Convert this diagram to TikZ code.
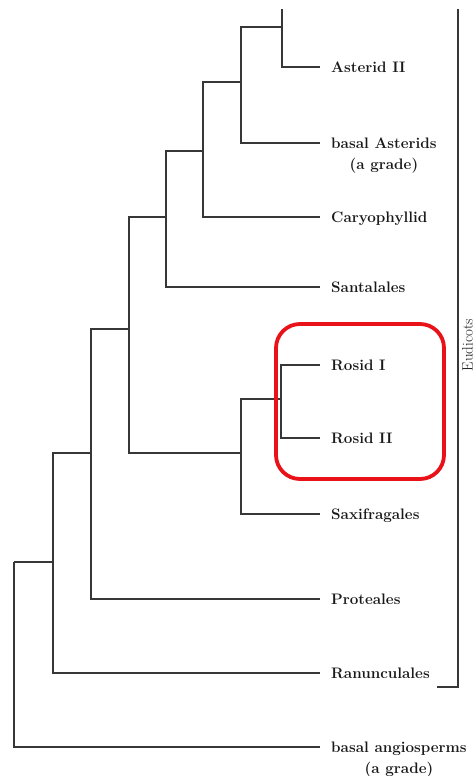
\documentclass[tikz,border=0pt]{standalone}
\usepackage{tikz}
\definecolor{branchgray}{RGB}{55,55,55}
\definecolor{inkblack}{RGB}{25,25,25}
\definecolor{boxred}{RGB}{232,18,24}
\begin{document}
\begin{tikzpicture}[x=1pt,y=-1pt,
  branch/.style={line width=1.7pt, draw=branchgray},
  lbl/.style={font=\fontsize{15.2}{18}\selectfont\bfseries, text=inkblack, inner sep=0pt},
  sidelbl/.style={font=\fontsize{15}{18}\selectfont, text=inkblack, inner sep=0pt},
  bracket/.style={line width=1.3pt, draw=branchgray},
  hilite/.style={draw=boxred, line width=3.8pt, rounded corners=24pt}]
\useasboundingbox (0,0) rectangle (476,776);

% internal nodes: (x of vertical bar, y where the parent's branch joins)
\coordinate (A) at (282,27);
\coordinate (Atop) at (282,9);
\coordinate (B) at (241,82);
\coordinate (C) at (203,151);
\coordinate (D) at (166,217);
\coordinate (E) at (129,329);
\coordinate (S) at (241,453);
\coordinate (R) at (281,399);
\coordinate (F) at (91,453);
\coordinate (G) at (53,562);
\coordinate (H) at (14,562);

% branch tips
\coordinate (tAst) at (320,67);
\coordinate (tBas) at (320,143);
\coordinate (tCar) at (320,217);
\coordinate (tSan) at (320,287);
\coordinate (tRo1) at (320,365);
\coordinate (tRo2) at (320,438);
\coordinate (tSax) at (320,514);
\coordinate (tPro) at (320,599);
\coordinate (tRan) at (320,673);
\coordinate (tAng) at (320,747);

% taxon labels
\node[lbl, anchor=base west] (lAst) at (331,72.5) {Asterid II};
\node[lbl, anchor=base west] (lBas) at (331,148.5) {basal Asterids};
\node[lbl, anchor=base] (lBas2) at ([yshift=-21pt]lBas.base) {(a grade)};
\node[lbl, anchor=base west] (lCar) at (331,222.5) {Caryophyllid};
\node[lbl, anchor=base west] (lSan) at (331,292.5) {Santalales};
\node[lbl, anchor=base west] (lRo1) at (331,370.5) {Rosid I};
\node[lbl, anchor=base west] (lRo2) at (331,443.5) {Rosid II};
\node[lbl, anchor=base west] (lSax) at (331,519.5) {Saxifragales};
\node[lbl, anchor=base west] (lPro) at (331,604.5) {Proteales};
\node[lbl, anchor=base west] (lRan) at (331,678.5) {Ranunculales};
\node[lbl, anchor=base west] (lAng) at (331,752.5) {basal angiosperms};
\node[lbl, anchor=base] (lAng2) at ([yshift=-21pt]lAng.base) {(a grade)};

% tree branches
\draw[branch] (H) |- (G);
\draw[branch] (H) |- (tAng);
\draw[branch] (G) |- (F);
\draw[branch] (G) |- (tRan);
\draw[branch] (F) |- (E);
\draw[branch] (F) |- (tPro);
\draw[branch] (E) |- (D);
\draw[branch] (E) |- (S);
\draw[branch] (S) |- (R);
\draw[branch] (S) |- (tSax);
\draw[branch] (R) |- (tRo1);
\draw[branch] (R) |- (tRo2);
\draw[branch] (D) |- (C);
\draw[branch] (D) |- (tSan);
\draw[branch] (C) |- (B);
\draw[branch] (C) |- (tCar);
\draw[branch] (B) |- (A);
\draw[branch] (B) |- (tBas);
\draw[branch] (A) |- (tAst);
\draw[branch] (A) -- (Atop);

% Rosid highlight
\draw[hilite] (276,324) rectangle (444,479);

% Eudicots bracket
\coordinate (eTop) at (458,9);
\coordinate (eBot) at (458,687);
\coordinate (eEnd) at (437,687);
\draw[bracket] (eTop) -- (eBot) -- (eEnd);
\node[sidelbl, rotate=90] (lEud) at (467.5,345) {Eudicots};
\end{tikzpicture}
\end{document}
